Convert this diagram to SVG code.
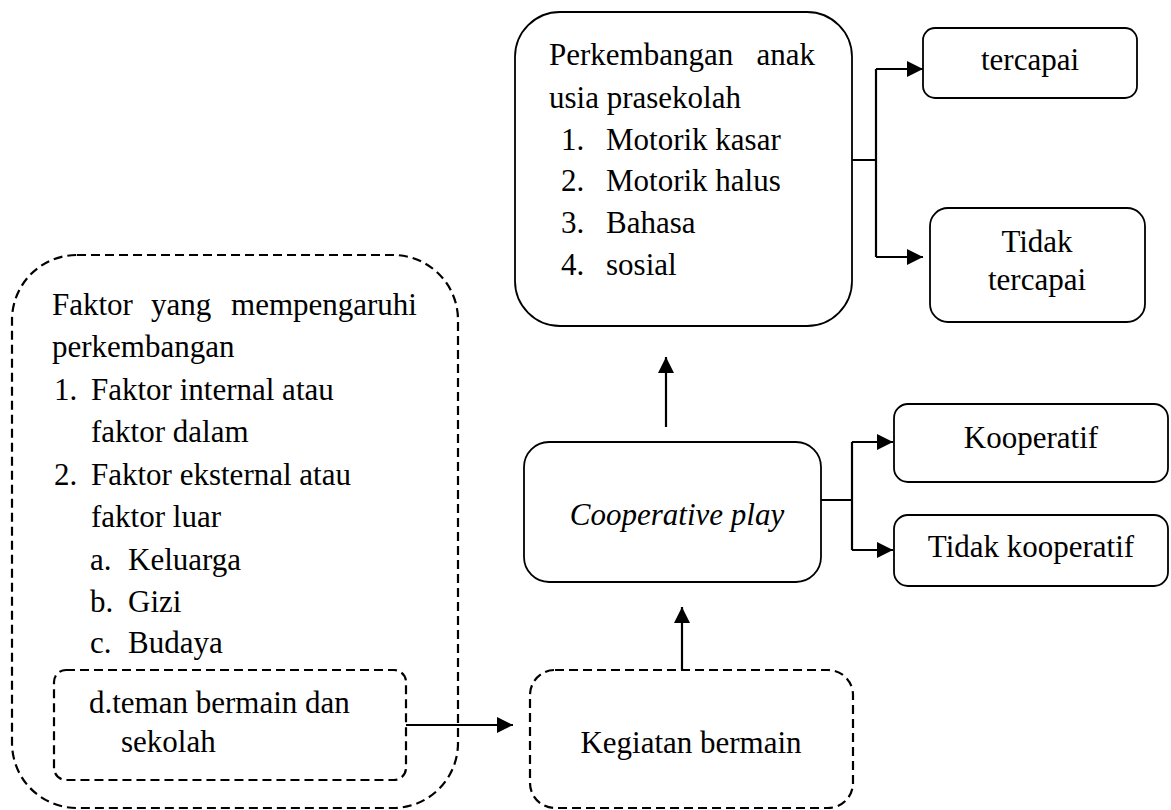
<svg xmlns="http://www.w3.org/2000/svg" width="1171" height="810" viewBox="0 0 1171 810">
<defs>
<marker id="ah" markerUnits="userSpaceOnUse" markerWidth="18" markerHeight="18" refX="16" refY="8" orient="auto">
<path d="M0,0 L16,8 L0,16 z" fill="#000"/>
</marker>
</defs>
<rect width="1171" height="810" fill="#fff"/>
<g id="faktor">
<rect x="12" y="255" width="446" height="553" rx="65" fill="none" stroke="#000" stroke-width="2.2" stroke-dasharray="9 5"/>
<text x="52" y="315" font-family="Liberation Serif" font-size="31">Faktor</text>
<text x="151" y="315" font-family="Liberation Serif" font-size="31">yang</text>
<text x="417" y="315" font-family="Liberation Serif" font-size="31" text-anchor="end">mempengaruhi</text>
<text x="52" y="357" font-family="Liberation Serif" font-size="31">perkembangan</text>
<text x="54" y="400" font-family="Liberation Serif" font-size="31">1.</text>
<text x="91" y="400" font-family="Liberation Serif" font-size="31">Faktor internal atau</text>
<text x="91" y="442" font-family="Liberation Serif" font-size="31">faktor dalam</text>
<text x="54" y="485" font-family="Liberation Serif" font-size="31">2.</text>
<text x="91" y="485" font-family="Liberation Serif" font-size="31">Faktor eksternal atau</text>
<text x="91" y="527" font-family="Liberation Serif" font-size="31">faktor luar</text>
<text x="90" y="570" font-family="Liberation Serif" font-size="31">a.</text>
<text x="128" y="570" font-family="Liberation Serif" font-size="31">Keluarga</text>
<text x="90" y="612" font-family="Liberation Serif" font-size="31">b.</text>
<text x="128" y="612" font-family="Liberation Serif" font-size="31">Gizi</text>
<text x="90" y="653" font-family="Liberation Serif" font-size="31">c.</text>
<text x="128" y="653" font-family="Liberation Serif" font-size="31">Budaya</text>
</g>
<g id="teman">
<rect x="54" y="670" width="352" height="110" rx="12" fill="none" stroke="#000" stroke-width="2.2" stroke-dasharray="9 5"/>
<text x="89" y="713" font-family="Liberation Serif" font-size="31">d.teman bermain dan</text>
<text x="121" y="752" font-family="Liberation Serif" font-size="31">sekolah</text>
</g>
<g id="kegiatan">
<rect x="530" y="670" width="323" height="138" rx="25" fill="none" stroke="#000" stroke-width="2.2" stroke-dasharray="9 5"/>
<text x="691" y="753" font-family="Liberation Serif" font-size="31" text-anchor="middle">Kegiatan bermain</text>
</g>
<g id="cooperative">
<rect x="524" y="442" width="297" height="140" rx="25" fill="#fff" stroke="#000" stroke-width="1.8"/>
<text x="677" y="525" font-family="Liberation Serif" font-size="31" font-style="italic" text-anchor="middle">Cooperative play</text>
</g>
<g id="kooperatif">
<rect x="894" y="404" width="274" height="78" rx="14" fill="#fff" stroke="#000" stroke-width="1.8"/>
<text x="1031" y="448" font-family="Liberation Serif" font-size="31" text-anchor="middle">Kooperatif</text>
</g>
<g id="tidak-kooperatif">
<rect x="894" y="515" width="274" height="71" rx="14" fill="#fff" stroke="#000" stroke-width="1.8"/>
<text x="1031" y="557" font-family="Liberation Serif" font-size="31" text-anchor="middle">Tidak kooperatif</text>
</g>
<g id="perkembangan">
<rect x="515" y="12" width="337" height="314" rx="45" fill="#fff" stroke="#000" stroke-width="1.8"/>
<text x="549" y="65" font-family="Liberation Serif" font-size="31">Perkembangan</text>
<text x="815" y="65" font-family="Liberation Serif" font-size="31" text-anchor="end">anak</text>
<text x="549" y="108" font-family="Liberation Serif" font-size="31">usia prasekolah</text>
<text x="561" y="150" font-family="Liberation Serif" font-size="31">1.</text>
<text x="606" y="150" font-family="Liberation Serif" font-size="31">Motorik kasar</text>
<text x="561" y="191" font-family="Liberation Serif" font-size="31">2.</text>
<text x="606" y="191" font-family="Liberation Serif" font-size="31">Motorik halus</text>
<text x="561" y="233" font-family="Liberation Serif" font-size="31">3.</text>
<text x="606" y="233" font-family="Liberation Serif" font-size="31">Bahasa</text>
<text x="561" y="275" font-family="Liberation Serif" font-size="31">4.</text>
<text x="606" y="275" font-family="Liberation Serif" font-size="31">sosial</text>
</g>
<g id="tercapai">
<rect x="923" y="28" width="214" height="70" rx="12" fill="#fff" stroke="#000" stroke-width="1.8"/>
<text x="1030" y="70" font-family="Liberation Serif" font-size="31" text-anchor="middle">tercapai</text>
</g>
<g id="tidak-tercapai">
<rect x="930" y="208" width="215" height="114" rx="18" fill="#fff" stroke="#000" stroke-width="1.8"/>
<text x="1037" y="252" font-family="Liberation Serif" font-size="31" text-anchor="middle">Tidak</text>
<text x="1037" y="290" font-family="Liberation Serif" font-size="31" text-anchor="middle">tercapai</text>
</g>
<g id="connectors" fill="none" stroke="#000" stroke-width="2.2">
<path d="M852,160 H876 M876,69 V257"/>
<path d="M876,69 H923" marker-end="url(#ah)"/>
<path d="M876,257 H923" marker-end="url(#ah)"/>
<path d="M666,427 V357" marker-end="url(#ah)"/>
<path d="M682,670 V607" marker-end="url(#ah)"/>
<path d="M821,500 H852 M852,442 V550"/>
<path d="M852,442 H893" marker-end="url(#ah)"/>
<path d="M852,550 H893" marker-end="url(#ah)"/>
<path d="M406,725 H513" marker-end="url(#ah)"/>
</g>
</svg>
